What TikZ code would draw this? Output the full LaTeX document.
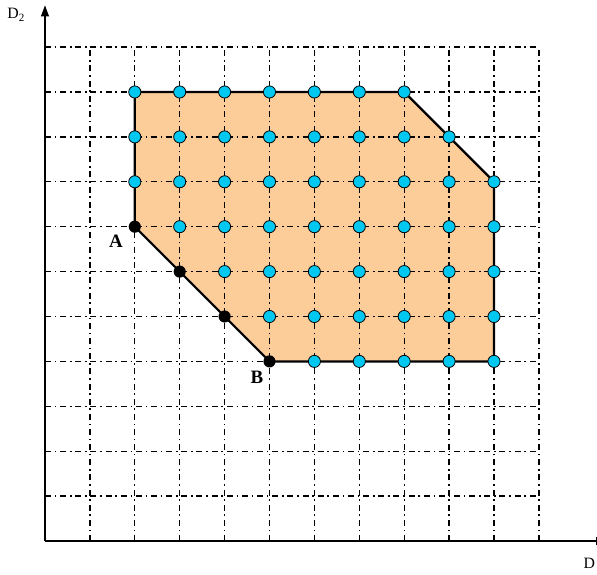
\documentclass[tikz,border=0pt]{standalone}
\usepackage{fontspec}
\setmainfont{Liberation Serif}
\usetikzlibrary{arrows.meta}
\definecolor{regionfill}{RGB}{252,204,153}
\definecolor{dotcyan}{RGB}{0,200,240}
\tikzset{
  gridline/.style={black, line width=0.8pt, dash pattern=on 3.8pt off 2.4pt on 1pt off 2.4pt},
  axisline/.style={black, line width=0.7pt, -{Triangle[length=7pt,width=5pt]}},
  border/.style={black, line width=1.4pt, line join=round},
  cyandot/.style={circle, draw=black, line width=0.5pt, fill=dotcyan, minimum size=0.27cm, inner sep=0pt},
  blackdot/.style={circle, fill=black, minimum size=0.27cm, inner sep=0pt},
  lbl/.style={font=\fontsize{12}{14}\selectfont\bfseries, inner sep=0pt},
  axlbl/.style={font=\fontsize{10}{12}\selectfont, inner sep=0pt}
}
\begin{document}
\begin{tikzpicture}[x=1cm,y=1cm]
\useasboundingbox (-1.002,-0.757) rectangle (12.294,12.049);
% region
\fill[regionfill] (2,7) -- (2,10) -- (8,10) -- (10,8) -- (10,4) -- (5,4) -- cycle;
% grid
\foreach \i in {1,...,11} {
  \draw[gridline] (\i,0) -- (\i,11);
  \draw[gridline] (0,\i) -- (11,\i);
}
% axes
\coordinate (O) at (0,0);
\coordinate (Ytop) at (0,11.93);
\coordinate (Xend) at (12.52,0);
\draw[axisline] (O) -- (Ytop);
\draw[axisline] (O) -- (Xend);
\node[axlbl] (d2) at (-0.64,11.72) {D\textsubscript{2}};
\node[axlbl] (d1) at (12.12,-0.49) {D};
% border
\draw[border] (2,7) -- (2,10) -- (8,10) -- (10,8) -- (10,4) -- (5,4) -- cycle;
% cyan dots
\foreach \y/\a/\b in {10/2/8, 9/2/9, 8/2/10, 7/3/10, 6/4/10, 5/5/10, 4/6/10} {
  \foreach \x in {\a,...,\b} {
    \node[cyandot] (c\x-\y) at (\x,\y) {};
  }
}
% black dots
\node[blackdot] (A) at (2,7) {};
\node[blackdot] (p1) at (3,6) {};
\node[blackdot] (p2) at (4,5) {};
\node[blackdot] (B) at (5,4) {};
\node[lbl] (Alabel) at (1.58,6.68) {A};
\node[lbl] (Blabel) at (4.72,3.65) {B};
\end{tikzpicture}
\end{document}
